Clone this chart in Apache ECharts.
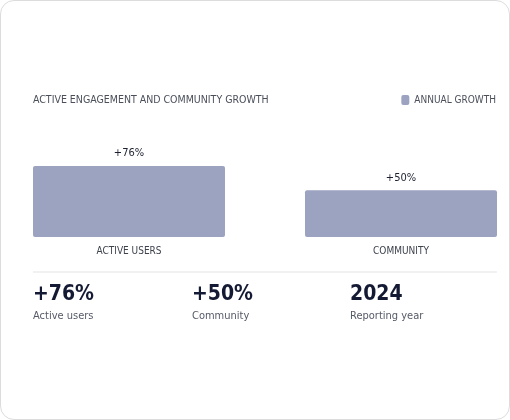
<!DOCTYPE html>
<html>
<head>
<meta charset="utf-8">
<script src="https://cdn.jsdelivr.net/npm/echarts@6/dist/echarts.min.js"></script>
<style>
  html, body { margin: 0; padding: 0; background: #fff; }
  .card { position: absolute; left: 0; top: 0; width: 508px; height: 418px;
          border: 1px solid #dcdcdc; border-radius: 14px; background: #fff; }
  #chart { position: absolute; left: 0; top: 0; width: 510px; height: 420px; }
</style>
</head>
<body>
<div class="card"></div>
<div id="chart"></div>
<script>
// ── DATA ───────────────────────────────────────────
const categories = ['ACTIVE USERS', 'COMMUNITY'];
const growthValues = [76, 50];
const statValues = ['+76%', '+50%', '2024'];
const statLabels = ['Active users', 'Community', 'Reporting year'];

const FONT = '"Liberation Sans Narrow", "DejaVu Sans Condensed", "Roboto Condensed", sans-serif';
const BAR = '#9ca3c0';

const chart = echarts.init(document.getElementById('chart'));

const statX = [33, 192, 350];
const statGraphics = [];
statValues.forEach((v, i) => {
  statGraphics.push({ type: 'text', left: statX[i], top: 284,
    style: { text: v, font: `bold 21px ${FONT}`, fill: '#141a33' } });
  statGraphics.push({ type: 'text', left: statX[i], top: 311,
    style: { text: statLabels[i], font: `11px ${FONT}`, fill: '#555a66' } });
});

chart.setOption({
  animation: false,
  textStyle: { fontFamily: FONT },
  title: {
    text: 'ACTIVE ENGAGEMENT AND COMMUNITY GROWTH',
    left: 28, top: 90,
    textStyle: { fontSize: 10.5, fontWeight: 'normal', color: '#4a4f5a', fontFamily: FONT }
  },
  legend: {
    right: 9, top: 90, itemWidth: 8, itemHeight: 10, itemGap: 4,
    icon: 'roundRect',
    textStyle: { fontSize: 10, color: '#4a4f5a', fontFamily: FONT },
    data: ['ANNUAL GROWTH']
  },
  grid: { left: -7, width: 544, top: 143.6, height: 93.4, outerBoundsMode: 'none', containLabel: false },
  xAxis: {
    type: 'category', data: categories,
    axisLine: { show: false }, axisTick: { show: false },
    axisLabel: { margin: 9, fontSize: 10, color: '#3d424d', fontFamily: FONT }
  },
  yAxis: { type: 'value', min: 0, max: 100, show: false },
  series: [{
    name: 'ANNUAL GROWTH', type: 'bar', data: growthValues, barWidth: 192,
    itemStyle: { color: BAR, borderRadius: 2 },
    label: { show: true, position: 'top', distance: 7, formatter: p => '+' + p.value + '%',
             fontSize: 11, color: '#1c2030', fontFamily: FONT }
  }],
  graphic: [
    { type: 'line', shape: { x1: 33, y1: 272, x2: 497, y2: 272 },
      style: { stroke: '#ececec', lineWidth: 1.5 } },
    ...statGraphics
  ]
});
</script>
</body>
</html>
